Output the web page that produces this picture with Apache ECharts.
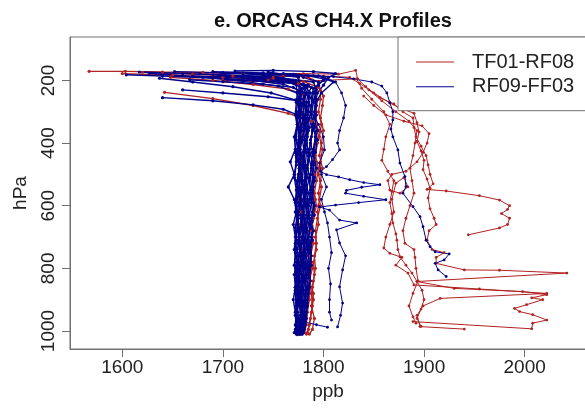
<!DOCTYPE html>
<html><head><meta charset="utf-8">
<script src="https://cdn.jsdelivr.net/npm/echarts@6/dist/echarts.min.js"></script>
<style>html,body{margin:0;padding:0;background:#fff}#c{width:585px;height:412px}</style>
</head><body><div id="c"></div>
<script>
// ---- axes ----
const xTicks = [1600, 1700, 1800, 1900, 2000];
const yTicks = [200, 400, 600, 800, 1000];
// pressure levels (hPa) shared by the dense bundle profiles
const levelsA = [260,300,340,380,420,460,500,540,580,620,660,700,740,780,820,860,900,940,980,1005];
const levelsB = [280,320,360,400,440,480,520,560,600,640,680,720,760,800,840,880,920,960,995,1010];
const levelsC = [240,270,310,350,390,430,470,510,550,590,630,670,710,750,790,830,870,910,950,985,1003];

// ---- TF01-RF08 (red) : [ppb, hPa] tops + bundle columns ----
const r01Top = [[1567,171],[1603,171],[1640,173],[1680,174],[1720,177],[1760,182],[1785,190],[1795,205],[1797,232]];
const r01Col = [1797,1795,1798,1796,1799,1797,1795,1798,1796,1794,1795,1792,1793,1790,1791,1789,1790,1788,1786,1784];
const r02Top = [[1620,174],[1670,180],[1710,186],[1750,193],[1780,203],[1795,222],[1800,250]];
const r02Col = [1799,1797,1800,1798,1796,1799,1797,1795,1797,1794,1792,1793,1791,1792,1790,1788,1789,1787,1785,1783];
const r03Top = [[1648,190],[1690,200],[1730,213],[1765,228],[1780,245]];
const r03Col = [1780,1778,1777,1779,1776,1778,1777,1779,1776,1778,1777,1776,1778,1777,1775,1776,1775,1774,1775,1774];
const r03Tail = [[1774,1012]];
const r04Top = [[1642,238],[1690,258],[1730,280],[1765,305],[1788,330]];
const r04Col = [null,null,1796,1794,1792,1795,1793,1791,1793,1790,1788,1790,1787,1789,1786,1790,1788,1791,1789,1786];
const r05Top = [[1600,178],[1650,183],[1700,190],[1745,198],[1775,210],[1790,225]];
const r05Col = [1793,1791,1794,1792,1790,1793,1791,1789,1792,1790,1788,1789,1786,1788,1785,1787,1786,1784,1783,1781];
// red profiles on the right
const redA = [[1660,176],[1720,177],[1780,178],[1815,180],[1832,168],[1834,195],[1842,220],[1856,255],[1870,275],[1879,300],[1889,320],[1890,350],[1892,380],[1897,410],[1902,440],[1904,470],[1906,500],[1909,530],[1903,548],[1922,553],[1955,568],[1975,582],[1985,600],[1983,612],[1977,625],[1985,640],[1983,660],[1975,671],[1944,693]];
const redB = [[1690,190],[1750,188],[1800,186],[1826,190],[1836,210],[1850,240],[1866,272],[1876,288],[1890,305],[1893,335],[1895,365],[1893,395],[1897,425],[1900,455],[1899,485],[1903,515],[1906,545],[1904,575],[1906,610],[1910,640],[1912,660],[1905,680],[1903,710],[1908,740],[1920,750],[1912,765],[1912,784],[1940,805],[1975,806],[2042,815],[1893,842],[1898,870],[1900,900],[1897,930],[1893,960],[1897,985]];
const redC = [[1700,200],[1760,205],[1800,200],[1833,195],[1838,225],[1848,260],[1860,300],[1866,340],[1862,380],[1860,420],[1858,455],[1864,490],[1870,520],[1868,555],[1866,590],[1868,625],[1869,655],[1872,690],[1873,710],[1874,740],[1876,763],[1882,790],[1888,815],[1893,842],[1930,864],[1998,874],[2022,884],[2007,894],[2018,900],[2002,916],[1990,928],[1995,938],[2008,948],[2022,965],[2008,975],[2007,993],[1889,970]];
const redD = [[1840,250],[1850,280],[1862,310],[1880,330],[1898,345],[1905,370],[1903,400],[1899,430],[1893,460],[1882,490],[1868,500],[1864,520],[1866,550],[1876,560],[1884,540],[1880,510],[1872,528],[1868,580],[1870,620],[1866,660],[1862,700],[1860,735],[1866,752],[1878,765],[1872,790],[1884,815],[1890,853],[1955,866],[2022,880],[1916,896],[1899,920],[1893,950],[1896,986],[1940,994]];
const redE = [[1845,230],[1858,265],[1872,300],[1885,330],[1893,360],[1891,400],[1889,440],[1886,480],[1888,520],[1890,560],[1886,600],[1882,640],[1879,680],[1881,720],[1890,740],[1891,765],[1892,800],[1894,840],[1889,880],[1885,920],[1889,955],[1892,975]];

// ---- RF09-FF03 (blue) ----
const b01Top = [[1604,182],[1640,186],[1690,192],[1730,200],[1760,212],[1776,232]];
const b01Col = [1777,1775,1778,1776,1774,1777,1775,1776,1778,1775,1774,1776,1777,1775,1774,1776,1775,1774,1776,1775];
const b02Top = [[1617,173],[1660,178],[1700,183],[1745,190],[1770,200],[1782,222],[1781,250]];
const b02Col = [1781,1779,1780,1782,1778,1780,1779,1781,1778,1779,1780,1778,1779,1777,1780,1778,1777,1779,1777,1776];
const b03Top = [[1627,177],[1680,190],[1720,203],[1755,218],[1774,240]];
const b03Col = [1775,1773,1774,1772,1775,1773,1771,1774,1773,1772,1774,1773,1772,1774,1773,1772,1774,1773,1772,1773];
const b04Top = [[1637,193],[1670,205],[1710,220],[1748,240],[1772,262]];
const b04Col = [1783,1781,1784,1782,1780,1783,1781,1782,1780,1781,1783,1780,1779,1781,1779,1778,1780,1777,1778,1776];
const b05Top = [[1652,172],[1700,176],[1750,180],[1785,185],[1800,195],[1795,215],[1790,240]];
const b05Col = [1789,1787,1790,1788,1786,1789,1787,1788,1786,1785,1787,1785,1784,1786,1783,1784,1782,1781,1780,1779];
const b06Top = [[1667,198],[1700,204],[1740,212],[1770,222],[1785,250]];
const b06Col = [1786,1784,1785,1783,1786,1784,1782,1785,1783,1784,1782,1783,1781,1783,1781,1780,1782,1779,1778,1777];
const b07Top = [[1677,179],[1720,184],[1760,193],[1790,205],[1793,230]];
const b07Col = [1792,1791,1789,1792,1790,1791,1789,1790,1788,1789,1787,1788,1786,1787,1785,1786,1784,1783,1782,1780];
const b08Top = [[1697,182],[1730,190],[1765,205],[1780,225],[1777,255]];
const b08Col = [1778,1776,1777,1775,1778,1776,1777,1775,1776,1778,1776,1775,1777,1776,1775,1776,1774,1775,1774,1773];
const b09Top = [[1640,255],[1690,265],[1730,278],[1760,292],[1774,310]];
const b09Col = [null,null,1774,1771,1772,1767,1771,1765,1771,1773,1770,1772,1771,1773,1771,1772,1770,1772,1773,1771];
const b10Top = [[1712,170],[1750,168],[1790,172],[1812,178],[1800,200],[1790,225],[1788,255]];
const b10Col = [1788,1786,1789,1787,1785,1788,1786,1787,1785,1786,1784,1786,1783,1785,1782,1783,1781,1780,1779,1778];
const b11Top = [[1660,230],[1700,240],[1745,252],[1775,265],[1783,285]];
const b11Col = [null,1783,1781,1784,1782,1780,1783,1781,1782,1780,1781,1779,1781,1780,1778,1779,1777,1778,1776,1775];
const b12Top = [[1740,186],[1770,200],[1778,225],[1776,255]];
const b12Col = [1776,1774,1776,1775,1773,1776,1774,1775,1773,1775,1774,1772,1775,1773,1774,1772,1773,1774,1772,1774];
const b13Top = [[1725,195],[1760,205],[1784,215],[1780,240]];
const b13Col = [1780,1778,1781,1779,1777,1780,1778,1779,1777,1780,1778,1779,1777,1778,1776,1778,1777,1778,1777,1776];
const b14Top = [[1760,178],[1795,185],[1810,205],[1798,240],[1794,262]];
const b14Col = [1793,1791,1794,1792,1790,1793,1791,1789,1791,1788,1790,1787,1788,1786,1787,1785,1784,1783,1781,1779];
const b15Top = [[1700,176],[1745,183],[1772,200]];
const b15Col = [1774,1773,1772,1774,1773,1772,1773,1771,1773,1772,1774,1772,1773,1772,1771,1773,1772,1773,1772,1773,1772];
const b16Top = [[1745,173],[1775,188]];
const b16Col = [1778,1777,1776,1778,1777,1776,1778,1777,1779,1776,1777,1778,1776,1777,1778,1776,1777,1776,1777,1775,1776];
const b17Top = [[1670,186],[1720,192],[1765,200],[1785,215]];
const b17Col = [1783,1781,1780,1782,1779,1781,1780,1782,1779,1781,1780,1779,1781,1780,1779,1780,1778,1779,1778,1777,1776];
const b18Top = [[1705,196],[1750,204],[1780,212]];
const b18Col = [1787,1785,1784,1786,1783,1785,1784,1786,1783,1784,1785,1783,1784,1782,1783,1781,1782,1780,1779,1778,1777];
const b19Top = [[1780,190],[1795,205]];
const b19Col = [1792,1790,1788,1790,1787,1789,1788,1790,1787,1788,1786,1787,1785,1786,1784,1785,1783,1782,1781,1780,1779];
const b20Top = [[1690,172],[1740,176],[1775,190]];
const b20Col = [1776,1775,1777,1775,1776,1774,1776,1775,1777,1775,1774,1776,1775,1774,1776,1775,1774,1775,1773,1774,1773];
const b21Top = [[1735,192],[1770,205],[1788,222]];
const b21Col = [1785,1783,1782,1784,1781,1783,1782,1784,1781,1782,1783,1781,1782,1780,1781,1780,1779,1778,1779,1777,1778];
const b22Top = [[1805,190],[1800,215]];
const b22Col = [1794,1792,1793,1791,1794,1792,1790,1791,1789,1790,1791,1788,1789,1787,1788,1786,1785,1784,1782,1781,1780];
const blueE = [[1690,188],[1740,185],[1790,185],[1810,188],[1830,195],[1848,205],[1858,218],[1863,240],[1866,271],[1869,300],[1869,326],[1867,355],[1869,380],[1874,422],[1876,464],[1881,507],[1882,539],[1879,560],[1889,603],[1896,635],[1899,667],[1902,710],[1906,731],[1911,747],[1925,754],[1920,773],[1911,784],[1914,805],[1922,826]];
const blueZ = [[1720,176],[1770,180],[1800,188],[1812,205],[1818,240],[1822,280],[1820,320],[1816,360],[1814,400],[1816,422],[1809,453],[1803,475],[1797,490],[1803,501],[1815,508],[1826,517],[1840,526],[1856,533],[1838,541],[1823,551],[1822,560],[1840,570],[1862,581],[1835,590],[1812,598],[1796,604],[1806,614],[1816,646],[1833,655],[1813,677],[1816,719],[1822,760],[1819,805],[1816,859],[1819,911],[1817,950],[1814,987]];
const blueW = [[1788,300],[1795,340],[1800,380],[1801,422],[1796,464],[1798,500],[1803,540],[1798,580],[1801,620],[1804,655],[1806,700],[1808,750],[1805,800],[1807,850],[1806,900],[1806,940],[1808,965]];
const blueS = [[1776,960],[1782,972],[1793,980],[1804,988]];

function build(top, levels, col, tail) {
  const d = top.slice();
  levels.forEach((p, i) => { if (col[i] != null) d.push([col[i], p]); });
  if (tail) tail.forEach(t => d.push(t));
  return d;
}
const RED = '#b22222', BLUE = '#00008b';
const NAME_R = 'TF01-RF08', NAME_B = 'RF09-FF03';
// bundle profiles (drawn slightly heavier so the dense column reads as in the original)
const redBundle = [
  build(r01Top, levelsA, r01Col), build(r02Top, levelsB, r02Col), build(r03Top, levelsA, r03Col, r03Tail),
  build(r04Top, levelsB, r04Col), build(r05Top, levelsA, r05Col)
];
const redOther = [redA, redB, redC, redD, redE];
const blueBundle = [
  build(b01Top, levelsA, b01Col), build(b02Top, levelsB, b02Col), build(b03Top, levelsA, b03Col),
  build(b04Top, levelsB, b04Col), build(b05Top, levelsA, b05Col), build(b06Top, levelsB, b06Col),
  build(b07Top, levelsA, b07Col), build(b08Top, levelsB, b08Col), build(b09Top, levelsA, b09Col),
  build(b10Top, levelsB, b10Col), build(b11Top, levelsA, b11Col), build(b12Top, levelsB, b12Col),
  build(b13Top, levelsA, b13Col), build(b14Top, levelsB, b14Col),
  build(b15Top, levelsC, b15Col), build(b16Top, levelsC, b16Col), build(b17Top, levelsC, b17Col),
  build(b18Top, levelsC, b18Col), build(b19Top, levelsC, b19Col), build(b20Top, levelsC, b20Col),
  build(b21Top, levelsC, b21Col), build(b22Top, levelsC, b22Col)
];
const blueOther = [blueE, blueZ, blueW, blueS];
function mk(data, name, color, w, s) {
  return { type: 'line', name, data, symbol: 'circle', symbolSize: s, showSymbol: true,
    lineStyle: { width: w, color }, itemStyle: { color }, emphasis: { disabled: true },
    silent: true, animation: false, clip: true };
}
const series = []
  .concat(redBundle.map(d => mk(d, NAME_R, RED, 1.3, 3.2)))
  .concat(redOther.map(d => mk(d, NAME_R, RED, 1, 2.8)))
  .concat(blueBundle.map(d => mk(d, NAME_B, BLUE, 1.4, 3.2)))
  .concat(blueOther.map(d => mk(d, NAME_B, BLUE, 1, 2.8)));

const FONT = 'Liberation Sans, Arial, Helvetica, sans-serif';
const GRAY = '#707070';
const plain = v => String(v);
const chart = echarts.init(document.getElementById('c'), null, { renderer: 'canvas' });
chart.setOption({
  backgroundColor: '#ffffff',
  animation: false,
  title: { text: 'e. ORCAS CH4.X Profiles', left: 328, top: 6, textAlign: 'center',
    textStyle: { fontSize: 20, fontWeight: 'bold', color: '#111', fontFamily: FONT } },
  legend: { data: [NAME_R, NAME_B], orient: 'vertical', left: 398, top: 37,
    padding: [15, 60, 14, 18], borderColor: GRAY, borderWidth: 1, backgroundColor: '#fff',
    itemWidth: 38, itemHeight: 1, itemGap: 4.7, icon: 'rect',
    textStyle: { fontSize: 20, color: '#222', fontFamily: FONT, padding: [0, 0, 0, 13] } },
  grid: { left: 70, top: 37, width: 516, height: 312, show: true, borderColor: GRAY, borderWidth: 1,
    backgroundColor: 'transparent', outerBoundsMode: 'none', containLabel: false },
  xAxis: { type: 'value', min: 1548, max: 2061, splitLine: { show: false },
    axisLine: { show: true, lineStyle: { color: GRAY } },
    axisTick: { show: true, length: 8, lineStyle: { color: GRAY }, customValues: xTicks },
    axisLabel: { customValues: xTicks, formatter: plain, margin: 9, fontSize: 19, color: '#222', fontFamily: FONT },
    name: 'ppb', nameLocation: 'middle', nameGap: 33,
    nameTextStyle: { fontSize: 19, color: '#222', fontFamily: FONT } },
  yAxis: { type: 'value', inverse: true, min: 61.3, max: 1057.5, splitLine: { show: false },
    axisLine: { show: true, lineStyle: { color: GRAY } },
    axisTick: { show: true, length: 8, lineStyle: { color: GRAY }, customValues: yTicks },
    axisLabel: { customValues: yTicks, formatter: plain, rotate: 90, margin: 12, fontSize: 19, color: '#222', fontFamily: FONT },
    name: 'hPa', nameLocation: 'middle', nameRotate: 90, nameGap: 40,
    nameTextStyle: { fontSize: 19, color: '#222', fontFamily: FONT } },
  series
});
</script></body></html>
